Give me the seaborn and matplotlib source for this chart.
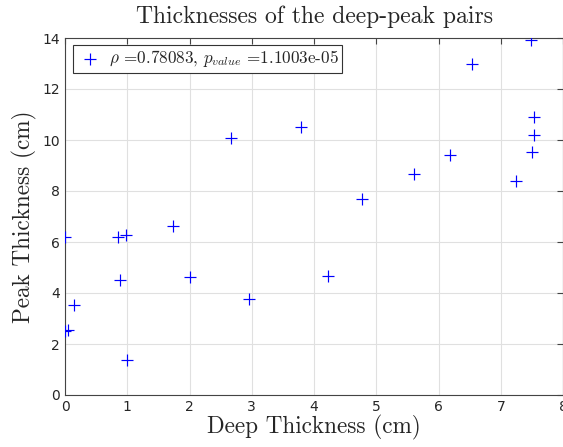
import matplotlib
matplotlib.use("Agg")
import matplotlib.pyplot as plt
import seaborn as sns
import pandas as pd

deep = [0.00, 0.00, 0.05, 0.14, 0.89, 0.85, 0.98, 0.99, 1.74, 2.01, 2.96, 2.66,
        3.79, 4.23, 4.77, 5.61, 6.19, 6.54, 7.48, 7.54, 7.54, 7.50, 7.24]
peak = [6.18, 2.52, 2.56, 3.52, 4.51, 6.21, 6.26, 1.36, 6.63, 4.64, 3.75, 10.08,
        10.51, 4.65, 7.67, 8.65, 9.40, 12.98, 13.92, 10.91, 10.21, 9.52, 8.40]
x_ticks = [0, 1, 2, 3, 4, 5, 6, 7, 8]
y_ticks = [0, 2, 4, 6, 8, 10, 12, 14]
legend_label = r"$\rho$ =0.78083, $p_{value}$ =1.1003e-05"

sns.set_style("white")
plt.rcParams["mathtext.fontset"] = "cm"

df = pd.DataFrame({"deep": deep, "peak": peak})
fig = plt.figure(figsize=(5.63, 4.47), dpi=100)
ax = fig.add_axes([65/563, 1-395/447, 498/563, 357/447])

sns.scatterplot(data=df, x="deep", y="peak", marker="+", s=75, color="#0000ff",
                linewidth=0.85, ax=ax, label=legend_label, zorder=3)

ax.set_xlim(0, 8)
ax.set_ylim(0, 14)
ax.set_xticks(x_ticks)
ax.set_yticks(y_ticks)
ax.grid(True, color="#e0e0e0", linewidth=0.8)
ax.set_axisbelow(True)
for s in ax.spines.values():
    s.set_color("#444444")
    s.set_linewidth(0.8)
ax.tick_params(direction="in", length=4, width=0.8, colors="#444444",
               labelcolor="#262626", labelsize=10, top=True, right=True)

serif = {"family": "cmr10"}
ax.set_title("Thicknesses of the deep-peak pairs", fontdict=serif, fontsize=17, pad=11)
ax.set_xlabel("Deep Thickness (cm)", fontdict=serif, fontsize=16.7, labelpad=1)
ax.set_ylabel("Peak Thickness (cm)", fontdict=serif, fontsize=16.7, labelpad=4)

leg = ax.legend(loc="upper left", fancybox=False, edgecolor="#333333",
                prop={"family": "cmr10", "size": 12.3}, handletextpad=0.3,
                borderpad=0.2, handlelength=1.6, borderaxespad=0,
                bbox_to_anchor=(8/498, 1-7/357), framealpha=1)
leg.get_frame().set_linewidth(0.8)

fig.savefig("out.png", dpi=100)
